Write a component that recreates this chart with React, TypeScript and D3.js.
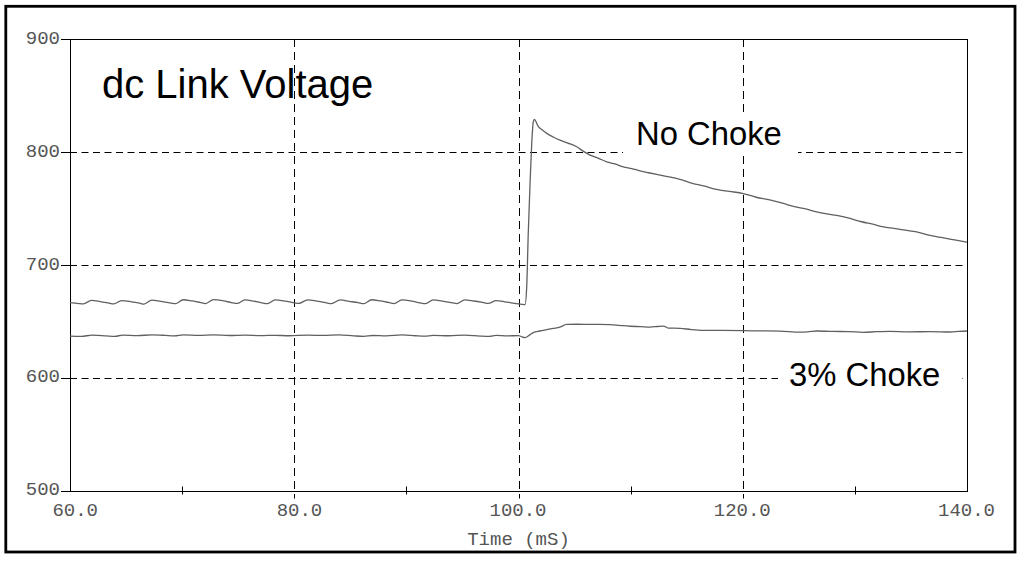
import React from "react";
import * as d3 from "d3";

const xMajorTicks: number[] = [60, 80, 100, 120, 140];
const xMinorTicks: number[] = [70, 90, 110, 130];
const xGridTicks: number[] = [80, 100, 120];
const xTickLabels: string[] = [" 60.0", " 80.0", "100.0", "120.0", "140.0"];
const yTicks: number[] = [500, 600, 700, 800, 900];
const yGridTicks: number[] = [600, 700, 800];
const yTickLabels: string[] = ["500", "600", "700", "800", "900"];

const titleText = "dc Link Voltage";
const xAxisTitle = "Time (mS)";
const seriesNames: string[] = ["No Choke", "3% Choke"];

// [time mS, voltage V]
const noChoke: [number, number][] = [
  [60.0, 666.4], [60.8, 665.6], [61.2, 665.4], [61.9, 668.4], [62.7, 667.4], [63.4, 666.2], [63.9, 665.3],
  [64.6, 668.3], [65.5, 667.2], [66.2, 666.0], [66.6, 665.2], [67.3, 668.7], [68.1, 667.5], [68.9, 666.3],
  [69.4, 665.5], [70.1, 669.0], [70.9, 667.9], [71.6, 666.6], [72.1, 665.6], [72.8, 669.1], [73.7, 668.0],
  [74.4, 666.5], [74.9, 665.7], [75.6, 668.8], [76.4, 667.7], [77.1, 666.3], [77.6, 665.6], [78.3, 668.9],
  [79.2, 667.8], [79.9, 666.5], [80.4, 665.7], [81.2, 668.9], [82.0, 667.8], [82.8, 666.4], [83.3, 665.6],
  [84.1, 668.8], [84.9, 667.6], [85.7, 666.4], [86.2, 665.5], [86.9, 669.0], [87.7, 667.9], [88.4, 666.6],
  [88.9, 665.6], [89.6, 668.8], [90.5, 667.7], [91.2, 666.3], [91.7, 665.5], [92.4, 668.9], [93.2, 667.8],
  [94.0, 666.5], [94.5, 665.6], [95.2, 668.9], [96.0, 667.9], [96.8, 666.6], [97.3, 665.7], [98.0, 668.2],
  [98.8, 667.2], [99.5, 666.0], [100.0, 665.3], [100.4, 664.9], [100.58, 664.6], [100.73, 680.0],
  [100.87, 727.7], [101.03, 772.0], [101.18, 807.5], [101.32, 826.7], [101.41, 828.8], [101.77, 822.3],
  [102.1, 819.5], [102.52, 816.4], [103.1, 813.2], [103.7, 810.4], [104.4, 807.8], [105.19, 804.5],
  [105.8, 800.4], [106.38, 797.1], [107.1, 794.5], [107.87, 791.2], [108.6, 789.3], [109.35, 786.8],
  [110.1, 785.2], [110.84, 783.2], [111.6, 781.5], [112.33, 780.0], [113.3, 778.1], [114.41, 775.6],
  [115.5, 772.2], [116.6, 769.6], [117.67, 766.7], [118.8, 765.0], [120.05, 763.1], [121.2, 759.8],
  [122.4, 757.5], [123.62, 754.3], [124.6, 751.5], [125.6, 749.4], [126.6, 746.8], [127.6, 744.9],
  [128.6, 743.3], [129.57, 741.0], [130.6, 738.1], [131.6, 735.9], [132.54, 733.6], [133.5, 732.2],
  [134.5, 730.6], [135.51, 729.1], [136.6, 726.3], [137.7, 724.2], [138.9, 722.0], [140.0, 720.0],
];

const choke3: [number, number][] = [
  [60.0, 636.8], [61.0, 636.6], [62.0, 637.6], [63.2, 637.0], [64.0, 636.5], [64.7, 637.7], [66.0, 637.2],
  [67.3, 637.9], [68.5, 637.4], [69.3, 636.9], [70.1, 637.8], [71.5, 637.4], [72.8, 637.9], [74.2, 637.3],
  [75.6, 637.6], [77.0, 637.2], [78.3, 637.5], [79.5, 637.1], [81.2, 637.6], [82.6, 637.4], [84.0, 637.9],
  [85.3, 637.0], [86.2, 636.6], [87.0, 637.3], [88.2, 637.0], [89.6, 637.8], [90.8, 637.1], [91.6, 636.7],
  [92.4, 637.4], [93.8, 637.1], [95.2, 637.7], [96.57, 636.8], [97.4, 636.5], [98.0, 637.4], [99.0, 637.0],
  [100.0, 637.2], [100.3, 636.2], [100.58, 635.5], [101.0, 637.9], [101.32, 639.9], [101.9, 641.3],
  [102.52, 642.5], [103.1, 643.6], [103.7, 644.8], [104.3, 647.2], [105.3, 647.3], [106.3, 647.1],
  [107.2, 647.2], [108.16, 647.0], [109.0, 646.3], [109.94, 645.5], [110.9, 645.2], [111.73, 644.8],
  [112.4, 645.3], [112.92, 645.7], [113.36, 643.9], [114.41, 643.7], [115.4, 642.6], [116.48, 641.9],
  [118.2, 641.8], [120.05, 641.6], [121.6, 641.4], [123.3, 641.2], [125.1, 640.3], [125.8, 640.6],
  [126.6, 641.3], [128.0, 640.9], [129.4, 640.8], [130.75, 640.1], [131.9, 640.7], [133.13, 641.0],
  [134.8, 640.6], [136.7, 640.7], [138.48, 640.4], [139.3, 641.0], [140.0, 641.3],
];

const W = 1023;
const H = 562;
const plot = { left: 70, right: 967, top: 39, bottom: 490.5 };

export default function App() {
  const x = d3.scaleLinear().domain([60, 140]).range([plot.left, plot.right]);
  const y = d3.scaleLinear().domain([500, 900]).range([plot.bottom, plot.top]);
  const line = d3
    .line<[number, number]>()
    .x((d) => x(d[0]))
    .y((d) => y(d[1]))
    .curve(d3.curveMonotoneX);

  const mono = "'Liberation Mono', 'Courier New', monospace";
  const sans = "'Liberation Sans', Arial, sans-serif";
  const axisColor = "#555";

  return (
    <svg
      width={W}
      height={H}
      style={{ position: "absolute", left: 0, top: 0, display: "block", background: "#fff" }}
    >
      <rect x={0} y={0} width={W} height={H} fill="#fff" />
      {/* outer frame */}
      <rect x={5.8} y={6.3} width={1009.2} height={545.7} fill="none" stroke="#000" strokeWidth={2.8} />

      {/* horizontal gridlines */}
      {yGridTicks.map((t) => (
        <line
          key={"hg" + t}
          x1={plot.left}
          x2={plot.right}
          y1={Math.round(y(t)) + 0.5}
          y2={Math.round(y(t)) + 0.5}
          stroke="#000"
          strokeWidth={1}
          strokeDasharray="7,4.5"
        />
      ))}
      {/* vertical gridlines */}
      {xGridTicks.map((t) => (
        <line
          key={"vg" + t}
          x1={Math.round(x(t)) + 0.5}
          x2={Math.round(x(t)) + 0.5}
          y1={plot.top}
          y2={plot.bottom + 8}
          stroke="#000"
          strokeWidth={1}
          strokeDasharray="8,5"
        />
      ))}

      {/* plot box */}
      <rect
        x={plot.left + 0.5}
        y={Math.round(plot.top) + 0.5}
        width={plot.right - plot.left}
        height={Math.round(plot.bottom) - Math.round(plot.top)}
        fill="none"
        stroke="#000"
        strokeWidth={1}
      />

      {/* y ticks */}
      {yTicks.map((t) => (
        <line
          key={"yt" + t}
          x1={plot.left - 9}
          x2={plot.left}
          y1={Math.round(y(t)) + 0.5}
          y2={Math.round(y(t)) + 0.5}
          stroke="#000"
          strokeWidth={1}
        />
      ))}
      {yTicks.map((t, i) => (
        <text
          key={"yl" + t}
          x={60}
          y={y(t) + 4.8}
          textAnchor="end"
          fontFamily={mono}
          fontSize={19}
          fill={axisColor}
        >
          {yTickLabels[i]}
        </text>
      ))}

      {/* x ticks */}
      {xMinorTicks.map((t) => (
        <line
          key={"xm" + t}
          x1={Math.round(x(t)) + 0.5}
          x2={Math.round(x(t)) + 0.5}
          y1={plot.bottom - 4}
          y2={plot.bottom + 4}
          stroke="#000"
          strokeWidth={1}
        />
      ))}
      {xMajorTicks.map((t, i) => (
        <text
          key={"xl" + t}
          x={x(t) + 28}
          y={516}
          textAnchor="end"
          fontFamily={mono}
          fontSize={19}
          fill={axisColor}
          style={{ whiteSpace: "pre" }}
        >
          {xTickLabels[i]}
        </text>
      ))}
      <text x={x(100)} y={545} textAnchor="middle" fontFamily={mono} fontSize={19} fill={axisColor} style={{ whiteSpace: "pre" }}>
        {xAxisTitle}
      </text>

      {/* series */}
      <path d={line(noChoke) || ""} fill="none" stroke="#606060" strokeWidth={1.3} />
      <path d={line(choke3) || ""} fill="none" stroke="#606060" strokeWidth={1.3} />

      {/* labels */}
      <text x={102} y={97.5} fontFamily={sans} fontSize={40} fill="#000">
        {titleText}
      </text>
      <rect x={623} y={114} width={175} height={42} fill="#fff" />
      <text x={636} y={145} fontFamily={sans} fontSize={32.8} fill="#000">
        {seriesNames[0]}
      </text>
      <rect x={778} y={354} width={184} height={42} fill="#fff" />
      <text x={789} y={385.5} fontFamily={sans} fontSize={32.8} fill="#000">
        {seriesNames[1]}
      </text>
    </svg>
  );
}
